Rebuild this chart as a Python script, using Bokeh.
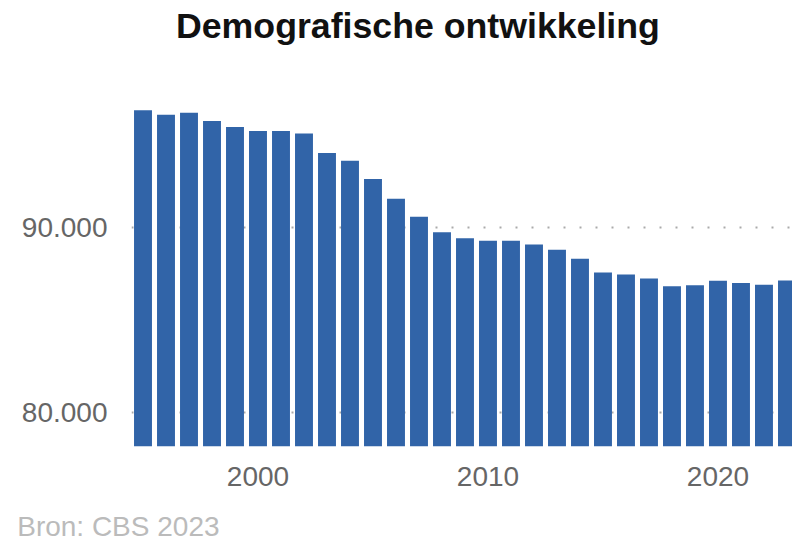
from bokeh.plotting import figure
from bokeh.models import Range1d, FixedTicker, Title
from bokeh.embed import file_html
from bokeh.resources import INLINE

# ---- data ----
years = list(range(1995, 2024))
values = [96334, 96102, 96210, 95757, 95434, 95218, 95218, 95078, 94032, 93601,
          92615, 91553, 90582, 89741, 89418, 89272, 89272, 89073, 88787, 88302,
          87563, 87456, 87240, 86809, 86863, 87116, 86992, 86900, 87132]
x_tick_values = [2000, 2010, 2020]
y_tick_values = [80000, 90000]
y_tick_labels = ["80.000", "90.000"]
title_text = "Demografische ontwikkeling"
source_text = "Bron: CBS 2023"

Y0, Y1 = 78140, 97951

p = figure(width=792, height=541, output_backend="svg", toolbar_location=None,
           x_range=Range1d(1994.5, 2023.24), y_range=Range1d(Y0, Y1),
           min_border_left=131, min_border_right=0, min_border_top=80,
           min_border_bottom=94)
p.outline_line_color = None
p.background_fill_color = "white"
p.border_fill_color = "white"

p.vbar(x=years, top=values, bottom=Y0, width=0.78, fill_color="#3164a8",
       line_color=None)

# axes
p.xaxis.ticker = FixedTicker(ticks=x_tick_values)
p.yaxis.ticker = FixedTicker(ticks=y_tick_values)
p.yaxis.major_label_overrides = dict(zip(y_tick_values, y_tick_labels))
for ax in (p.xaxis, p.yaxis):
    ax.axis_line_color = None
    ax.major_tick_line_color = None
    ax.minor_tick_line_color = None
    ax.major_tick_out = 0
    ax.major_tick_in = 0
    ax.major_label_text_font = "Liberation Sans"
    ax.major_label_text_font_size = "28px"
    ax.major_label_text_color = "#666666"
p.xaxis.major_label_standoff = 20
p.yaxis.major_label_standoff = 24

p.xgrid.grid_line_color = None
p.ygrid.grid_line_color = "#aaaaaa"
p.ygrid.grid_line_width = 2
p.ygrid.grid_line_dash = "2 14"

p.title.text = ""
p.title.standoff = 0

# spacer + main title above
p.add_layout(Title(text=" ", text_font_size="1px", standoff=32,
                   text_color="white"), "above")
p.add_layout(Title(text=title_text, align="left", offset=44.5, standoff=0,
                   text_font="Liberation Sans", text_font_style="bold",
                   text_font_size="35.7px", text_color="#111111"), "above")

# spacer + source below
p.add_layout(Title(text=" ", text_font_size="1px", standoff=17,
                   text_color="white"), "below")
p.add_layout(Title(text=source_text, align="left", offset=-114.3, standoff=0,
                   text_font="Liberation Sans", text_font_style="normal",
                   text_font_size="28px", text_color="#bbbbbb"), "below")

open("out.html", "w").write(file_html(p, INLINE))
